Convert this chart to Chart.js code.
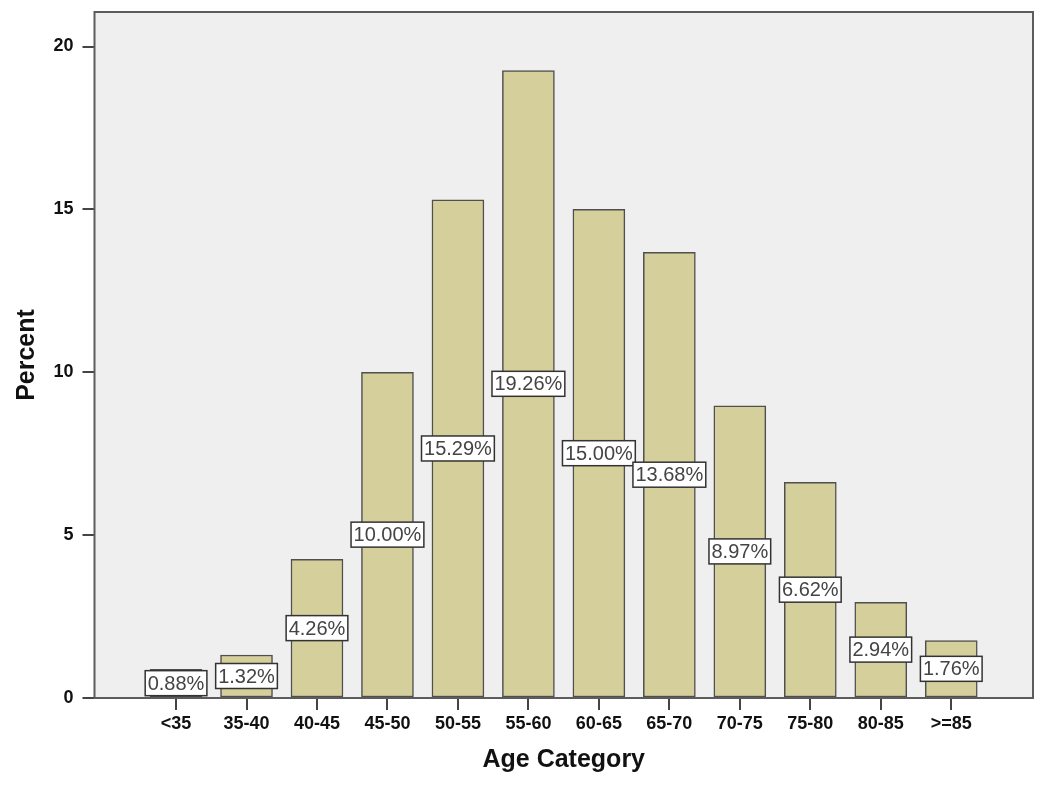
<!DOCTYPE html>
<html>
<head>
<meta charset="utf-8">
<script src="https://cdn.jsdelivr.net/npm/chart.js@4"></script>
<style>
body { margin: 0; background: #fff; }
</style>
</head>
<body>
<canvas id="myChart" width="1050" height="799"></canvas>
<script>
const categories = ['<35', '35-40', '40-45', '45-50', '50-55', '55-60', '60-65', '65-70', '70-75', '75-80', '80-85', '>=85']
const percents = [0.88, 1.32, 4.26, 10.00, 15.29, 19.26, 15.00, 13.68, 8.97, 6.62, 2.94, 1.76]
const yTicks = [0, 5, 10, 15, 20]

// plot background + frame
const frame = {
    id: 'frame',
    beforeDraw(chart) {
        const a = chart.chartArea
        const c = chart.ctx
        c.save()
        c.fillStyle = '#efefef'
        c.fillRect(a.left, a.top, a.right - a.left, a.bottom - a.top)
        c.restore()
    },
    afterDraw(chart) {
        const a = chart.chartArea
        const c = chart.ctx
        c.save()
        c.strokeStyle = '#5c5c5c'
        c.lineWidth = 2
        c.strokeRect(a.left, a.top, a.right - a.left, a.bottom - a.top)
        c.restore()
    }
}

// boxed percent labels in middle of each bar
const boxLabels = {
    id: 'boxLabels',
    afterDatasetsDraw(chart) {
        const c = chart.ctx
        const meta = chart.getDatasetMeta(0)
        c.save()
        c.font = '20px "Liberation Sans", Arial, sans-serif'
        c.textAlign = 'center'
        c.textBaseline = 'middle'
        meta.data.forEach((bar, i) => {
            const txt = percents[i].toFixed(2) + '%'
            const cy = (bar.y + bar.base) / 2
            const w = c.measureText(txt).width + 5
            const h = 25
            c.fillStyle = '#ffffff'
            c.fillRect(bar.x - w / 2, cy - h / 2, w, h)
            c.strokeStyle = '#333'
            c.lineWidth = 1.5
            c.strokeRect(bar.x - w / 2, cy - h / 2, w, h)
            c.fillStyle = '#444'
            c.fillText(txt, bar.x, cy + 1)
        })
        c.restore()
    }
}

const ctx = document.getElementById('myChart')

new Chart(ctx, {
    type: 'bar',
    data: {
        datasets: [{
            data: percents.map((v, i) => ({ x: i, y: v })),
            backgroundColor: '#d4cf9b',
            borderColor: '#4f4f4f',
            borderWidth: 1.5,
            borderSkipped: false,
            barThickness: 52
        }]
    },
    plugins: [frame, boxLabels],
    options: {
        responsive: false,
        animation: false,
        layout: { padding: { top: 12, right: 17, left: 0, bottom: 0 } },
        plugins: {
            legend: { display: false },
            tooltip: { enabled: false }
        },
        scales: {
            x: {
                type: 'linear',
                offset: false,
                min: -1.157,
                max: 12.16,
                afterBuildTicks: (s) => { s.ticks = categories.map((c, i) => ({ value: i })) },
                afterFit: (s) => { s.height = 101; s.paddingLeft = 0; s.paddingRight = 0 },
                grid: { offset: false, drawOnChartArea: false, tickLength: 12, color: '#444', lineWidth: 2 },
                border: { display: false },
                ticks: {
                    autoSkip: false,
                    maxRotation: 0,
                    padding: 3,
                    color: '#111',
                    font: { family: '"Liberation Sans", Arial, sans-serif', size: 18, weight: 'bold' },
                    callback: (v) => categories[v]
                },
                title: {
                    display: true,
                    text: 'Age Category',
                    color: '#111',
                    font: { family: '"Liberation Sans", Arial, sans-serif', size: 25, weight: 'bold' },
                    padding: { top: 0, bottom: 24 }
                }
            },
            y: {
                min: 0,
                max: 21.06,
                afterBuildTicks: (s) => { s.ticks = yTicks.map(v => ({ value: v })) },
                afterFit: (s) => { s.width = 94.5; s.paddingTop = 0; s.paddingBottom = 0 },
                grid: { drawOnChartArea: false, tickLength: 12, color: '#444', lineWidth: 2 },
                border: { display: false },
                ticks: {
                    padding: 9,
                    color: '#111',
                    font: { family: '"Liberation Sans", Arial, sans-serif', size: 18, weight: 'bold' }
                },
                title: {
                    display: true,
                    text: 'Percent',
                    color: '#111',
                    font: { family: '"Liberation Sans", Arial, sans-serif', size: 25, weight: 'bold' },
                    padding: { top: 12, bottom: 0 }
                }
            }
        }
    }
})
</script>
</body>
</html>
